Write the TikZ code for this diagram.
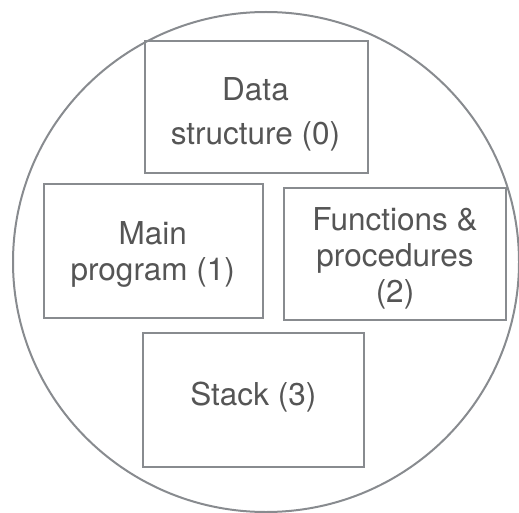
\documentclass[tikz,border=0pt]{standalone}
\usepackage{fontspec}
\setmainfont{TeX Gyre Heros}
\definecolor{linegray}{HTML}{888B8F}
\definecolor{textgray}{HTML}{555555}
\tikzset{
  part/.style={draw=linegray, line width=2.2pt, inner sep=0pt, fill=none},
  % anchor=base sits on the baseline of the last line
  lbl/.style={inner sep=0pt, align=center, text=textgray, anchor=base,
    font=\fontsize{31.5}{36}\selectfont},
}
\begin{document}
\begin{tikzpicture}[x=1pt, y=-1pt]
  \useasboundingbox (0,0) rectangle (519,513);
  % outer memory region
  \draw[linegray, line width=2pt] (266,262) ellipse [x radius=253pt, y radius=250pt];
  % the four parts
  \node[part, minimum width=223pt, minimum height=132pt] (ds) at (256.5,107) {};
  \node[part, minimum width=219pt, minimum height=134pt] (mp) at (153.5,251) {};
  \node[part, minimum width=222pt, minimum height=132pt] (fp) at (395,254) {};
  \node[part, minimum width=221pt, minimum height=134pt] (st) at (253.5,400) {};
  % labels
  \node[lbl, font=\fontsize{31.5}{44}\selectfont] (dsT) at (255.5,145) {Data\\structure (0)};
  \node[lbl] (mpT) at (152.7,280) {Main\\program (1)};
  \node[lbl] (fpT) at (395,302) {Functions \&\\procedures\\(2)};
  \node[lbl] (stT) at (253.3,405) {Stack (3)};
\end{tikzpicture}
\end{document}
